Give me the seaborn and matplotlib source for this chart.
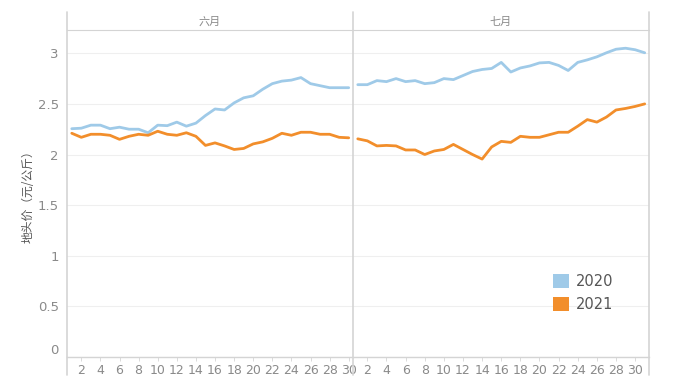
import numpy as np
import pandas as pd
import matplotlib
matplotlib.use('Agg')
import matplotlib.pyplot as plt
from matplotlib.lines import Line2D
from matplotlib.patches import Patch
import seaborn as sns

# 每日地头价数据 (元/公斤)
june_2020 = [2.255, 2.26, 2.29, 2.29, 2.255, 2.27, 2.25, 2.25, 2.215, 2.29,
             2.285, 2.32, 2.28, 2.31, 2.385, 2.45, 2.44, 2.51, 2.56, 2.58,
             2.645, 2.70, 2.725, 2.735, 2.76, 2.70, 2.68, 2.66, 2.66, 2.66]
june_2021 = [2.21, 2.17, 2.20, 2.20, 2.19, 2.15, 2.18, 2.20, 2.19, 2.23,
             2.20, 2.19, 2.215, 2.18, 2.09, 2.115, 2.085, 2.05, 2.06, 2.105,
             2.125, 2.16, 2.21, 2.19, 2.22, 2.22, 2.20, 2.20, 2.17, 2.165]
july_2020 = [2.69, 2.69, 2.73, 2.72, 2.75, 2.72, 2.73, 2.70, 2.71, 2.75,
             2.74, 2.78, 2.82, 2.84, 2.85, 2.91, 2.815, 2.855, 2.875, 2.905,
             2.91, 2.88, 2.83, 2.91, 2.935, 2.965, 3.005, 3.04, 3.05, 3.035, 3.005]
july_2021 = [2.155, 2.135, 2.085, 2.09, 2.085, 2.045, 2.045, 2.00, 2.035, 2.05,
             2.10, 2.05, 2.00, 1.955, 2.075, 2.13, 2.12, 2.18, 2.17, 2.17,
             2.195, 2.22, 2.22, 2.28, 2.345, 2.32, 2.37, 2.44, 2.455, 2.475, 2.50]

months = ['六月', '七月']
years = ['2020', '2021']
colors = {'2020': '#9FCAE8', '2021': '#F28E2B'}
x_ticks = list(range(2, 31, 2))
y_ticks = [0, 0.5, 1, 1.5, 2, 2.5, 3]

def make_df(v20, v21):
    n = len(v20)
    return pd.DataFrame({
        'day': list(range(1, n + 1)) * 2,
        'price': v20 + v21,
        'year': ['2020'] * n + ['2021'] * n,
    })

data = [make_df(june_2020, june_2021), make_df(july_2020, july_2021)]

sns.set_style('white')
plt.rcParams['font.family'] = ['DejaVu Sans', 'Noto Sans CJK SC']
cjk = ['Noto Sans CJK SC', 'DejaVu Sans']
grey_txt = '#8a8a8a'
line_c = '#d4d4d4'

W, H = 687, 391
fig = plt.figure(figsize=(W / 100, H / 100), dpi=100)

def fx(px):
    return px / W

def fy(py):
    return 1 - py / H

panels = [(67, 353), (353, 649)]
xlims = [(0.5, 30.45), (0.5, 31.45)]
axes = []
for i, (x0, x1) in enumerate(panels):
    ax = fig.add_axes([fx(x0), fy(357), fx(x1 - x0), fy(30) - fy(357)])
    sns.lineplot(data=data[i], x='day', y='price', hue='year', palette=colors,
                 linewidth=2.0, ax=ax, legend=False)
    ax.set_xlim(*xlims[i])
    ax.set_ylim(0, 3.23)
    ax.set_yticks(y_ticks)
    ax.set_xticks(x_ticks)
    ax.set_xticklabels([str(t) for t in x_ticks])
    ax.grid(axis='y', color='#efefef', linewidth=0.8)
    ax.set_axisbelow(True)
    for s in ['top', 'right', 'left']:
        ax.spines[s].set_visible(False)
    ax.spines['bottom'].set_color(line_c)
    ax.spines['bottom'].set_linewidth(1.0)
    ax.tick_params(axis='x', colors=line_c, labelcolor=grey_txt, labelsize=9,
                   length=3, width=0.6, pad=2, bottom=True)
    ax.set_xlabel('')
    ax.set_ylabel('')
    if i == 0:
        ax.tick_params(axis='y', labelcolor=grey_txt, labelsize=9.5, length=0, pad=6)
        ax.set_yticklabels(['0', '0.5', '1', '1.5', '2', '2.5', '3'])
        ax.get_yticklabels()[0].set_va('bottom')
        ax.set_ylabel('地头价（元/公斤）', family=cjk, fontsize=8.5, color='#555555')
        ax.yaxis.set_label_coords(-0.115, 0.5)
    else:
        ax.tick_params(axis='y', left=False, labelleft=False)
    axes.append(ax)

    # 月份标题栏
    hdr = fig.add_axes([fx(x0), fy(30), fx(x1 - x0), fy(12) - fy(30)])
    hdr.set_xticks([])
    hdr.set_yticks([])
    for s in ['top', 'right', 'left']:
        hdr.spines[s].set_visible(False)
    hdr.spines['bottom'].set_color(line_c)
    hdr.set_facecolor('none')
    hdr.text(0.5, 0.45, months[i], family=cjk, fontsize=8, color=grey_txt,
             ha='center', va='center', transform=hdr.transAxes)

# 面板分隔竖线
for xp in [67, 353, 649]:
    fig.add_artist(Line2D([fx(xp), fx(xp)], [fy(12), fy(375)], color=line_c,
                          linewidth=1.2))

handles = [Patch(facecolor=colors[y], edgecolor='none', label=y) for y in years]
leg = axes[1].legend(handles=handles, loc='center left',
                     bbox_to_anchor=(0.63, 0.195), frameon=False, fontsize=10.5,
                     handlelength=1.1, handleheight=1.1, handletextpad=0.5,
                     labelspacing=0.55)
for t in leg.get_texts():
    t.set_color('#555555')

fig.savefig('out.png', dpi=100, facecolor='white')
